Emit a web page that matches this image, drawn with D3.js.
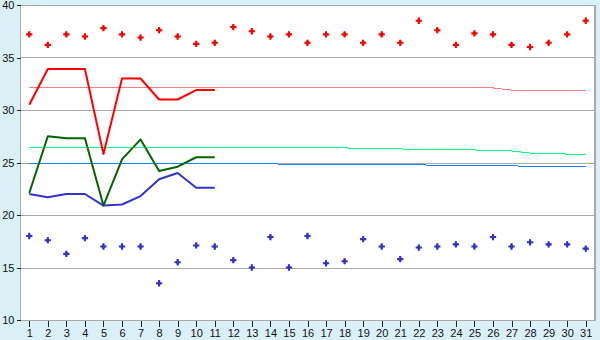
<!DOCTYPE html>
<html>
<head>
<meta charset="utf-8">
<script src="https://cdn.jsdelivr.net/npm/d3@7"></script>
<style>
  html, body { margin: 0; padding: 0; background: #daf0f7; }
  svg { display: block; font-family: "DejaVu Sans", sans-serif; }
</style>
</head>
<body>
<div id="chart"></div>
<script>
const days = d3.range(1, 32)
const yTicks = [10, 15, 20, 25, 30, 35, 40]

// daily extremes (dots)
const maxDots = [37.2, 36.2, 37.2, 37.0, 37.8, 37.2, 36.9, 37.6, 37.0, 36.3, 36.4, 37.9, 37.5, 37.0, 37.2, 36.4,
    37.2, 37.2, 36.4, 37.2, 36.4, 38.5, 37.6, 36.2, 37.3, 37.2, 36.2, 36.0, 36.4, 37.2, 38.5]
const minDots = [18.0, 17.6, 16.3, 17.8, 17.0, 17.0, 17.0, 13.5, 15.5, 17.1, 17.0, 15.7, 15.0, 17.9, 15.0, 18.0,
    15.4, 15.6, 17.7, 17.0, 15.8, 16.9, 17.0, 17.2, 17.0, 17.9, 17.0, 17.4, 17.2, 17.2, 16.8]

// thick lines, first 11 days only
const highLine = [30.5, 33.9, 33.9, 33.9, 25.8, 33.0, 33.0, 31.0, 31.0, 31.9, 31.9]
const meanLine = [22.1, 27.5, 27.3, 27.3, 20.9, 25.3, 27.2, 24.2, 24.6, 25.5, 25.5]
const lowLine = [22.0, 21.7, 22.0, 22.0, 20.9, 21.0, 21.8, 23.4, 24.0, 22.6, 22.6]

// thin reference lines, all days
const normHigh = [32.1, 32.1, 32.1, 32.1, 32.1, 32.1, 32.1, 32.1, 32.1, 32.1, 32.1, 32.1, 32.1, 32.1, 32.1, 32.1,
    32.1, 32.1, 32.1, 32.1, 32.1, 32.1, 32.1, 32.1, 32.1, 32.1, 31.9, 31.9, 31.9, 31.9, 31.9]
const normMean = [26.4, 26.4, 26.4, 26.4, 26.4, 26.4, 26.4, 26.4, 26.4, 26.4, 26.4, 26.4, 26.4, 26.4, 26.4, 26.4,
    26.4, 26.4, 26.3, 26.3, 26.3, 26.2, 26.2, 26.2, 26.2, 26.1, 26.1, 25.9, 25.9, 25.8, 25.8]
const normLow = [24.9, 24.9, 24.9, 24.9, 24.9, 24.9, 24.9, 24.9, 24.9, 24.9, 24.9, 24.9, 24.9, 24.9, 24.8, 24.8,
    24.8, 24.8, 24.8, 24.8, 24.8, 24.8, 24.7, 24.7, 24.7, 24.7, 24.7, 24.6, 24.6, 24.6, 24.6]

const W = 600, H = 340,
    mLeft = 20, mRight = 595, mTop = 5, mBottom = 320

const svg = d3.select("#chart").append("svg").attr("width", W).attr("height", H)

svg.append("rect").attr("width", W).attr("height", H).attr("fill", "#daf0f7")
svg.append("rect").attr("x", mLeft).attr("y", mTop).attr("width", mRight - mLeft).attr("height", mBottom - mTop)
    .attr("fill", "#fff")

const x = d3.scalePoint().domain(days).range([mLeft, mRight]).padding(0.5)
const y = d3.scaleLinear().domain([10, 40]).range([mBottom, mTop])

// grid
svg.append("g").selectAll("line").data(yTicks).join("line")
    .attr("x1", mLeft).attr("x2", mRight)
    .attr("y1", d => Math.round(y(d)) + 0.5).attr("y2", d => Math.round(y(d)) + 0.5)
    .attr("stroke", "#aaa").attr("shape-rendering", "crispEdges")

// frame: left and right edges
svg.append("line").attr("x1", mLeft + 0.5).attr("x2", mLeft + 0.5).attr("y1", mTop).attr("y2", mBottom)
    .attr("stroke", "#aaa").attr("shape-rendering", "crispEdges")
svg.append("line").attr("x1", mRight).attr("x2", mRight).attr("y1", mTop).attr("y2", mBottom + 1)
    .attr("stroke", "#aaa").attr("stroke-width", 2).attr("shape-rendering", "crispEdges")

// axes
const xAxis = svg.append("g").attr("transform", `translate(0,${mBottom + 0.5})`)
    .call(d3.axisBottom(x).tickSizeInner(6).tickSizeOuter(0).tickPadding(3))
const yAxis = svg.append("g").attr("transform", `translate(${mLeft + 0.5},0)`)
    .call(d3.axisLeft(y).tickValues(yTicks).tickSizeInner(4).tickSizeOuter(0).tickPadding(2))

;[xAxis, yAxis].forEach(a => {
    a.select(".domain").remove()
    a.selectAll(".tick line").attr("stroke", "#222").attr("shape-rendering", "crispEdges")
    a.selectAll("text").attr("fill", "#111").style("font-size", "11px")
})

// thin reference lines
const line = d3.line().x((d, i) => x(days[i])).y(d => y(d))

function thin(data, color) {
    svg.append("path").datum(data).attr("d", line).attr("fill", "none")
        .attr("stroke", color).attr("stroke-width", 1).attr("shape-rendering", "crispEdges")
}
thin(normHigh, "#f08080")
thin(normMean, "#00ff80")
thin(normLow, "#1a80ff")

function thick(data, color) {
    svg.append("path").datum(data).attr("d", line).attr("fill", "none")
        .attr("stroke", color).attr("stroke-width", 2).attr("stroke-linejoin", "round")
}
thick(lowLine, "#3333cc")
thick(meanLine, "#006400")
thick(highLine, "#ff0000")

// dots: a plus with a filled centre
const cross = d3.symbol().type(d3.symbolCross).size(22),
    diamond = d3.symbol().type(d3.symbolDiamond).size(12)

function dots(data, color) {
    const g = svg.append("g").selectAll("g").data(data).join("g")
        .attr("transform", (d, i) => `translate(${x(days[i])},${y(d)})`)
        .attr("fill", color)
    g.append("path").attr("d", cross)
    g.append("path").attr("d", diamond)
}
dots(maxDots, "#ff0000")
dots(minDots, "#3333cc")
</script>
</body>
</html>
